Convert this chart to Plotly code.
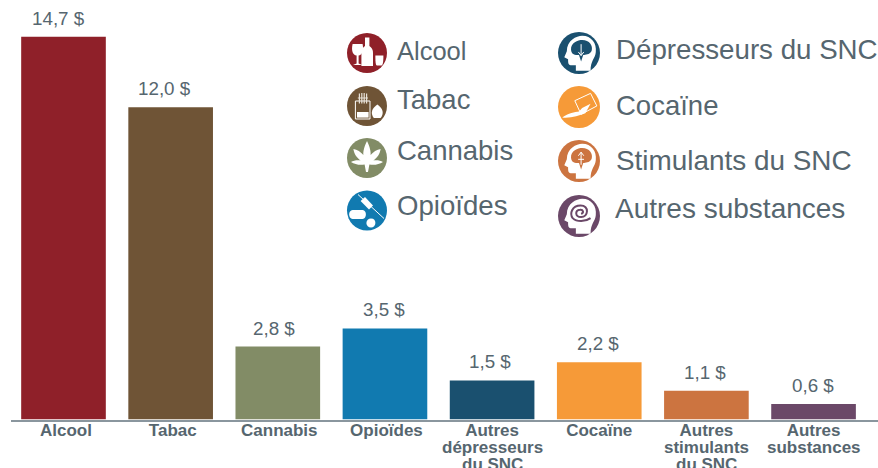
import re
import plotly.graph_objects as go

W, H = 878, 468
FONT = "Liberation Sans"
GREY = "#56666F"

categories = ["Alcool", "Tabac", "Cannabis", "Opioïdes", "Autres", "Cocaïne", "Autres", "Autres"]
category_ids = list(range(8))
extra_lines = {4: ["dépresseurs", "du SNC"], 6: ["stimulants", "du SNC"], 7: ["substances"]}
values = [14.7, 12.0, 2.8, 3.5, 1.5, 2.2, 1.1, 0.6]
value_labels = ["14,7 $", "12,0 $", "2,8 $", "3,5 $", "1,5 $", "2,2 $", "1,1 $", "0,6 $"]
colors = ["#8F2029", "#6F5436", "#828C66", "#117AB0", "#1A506F", "#F69A38", "#CC7440", "#6B4868"]

HEAD = ("M -0.58 -0.08 C -0.58 -0.6 -0.12 -0.82 0.15 -0.82 C 0.6 -0.82 0.85 -0.45 0.8 -0.05 "
        "C 0.78 0.25 0.55 0.35 0.55 0.84 L -0.15 0.84 L -0.15 0.58 L -0.4 0.58 "
        "C -0.52 0.58 -0.52 0.42 -0.52 0.3 L -0.7 0.2 Z")
BRAIN = ("M -0.38 -0.15 C -0.4 -0.5 -0.05 -0.62 0.15 -0.62 C 0.5 -0.62 0.68 -0.35 0.6 -0.1 "
         "C 0.5 0.1 0.3 0.05 0.2 0.1 L 0.1 0.4 L 0 0.1 C -0.2 0.1 -0.35 0.1 -0.38 -0.15 Z")
ARROW = "M 0.1 -0.42 L 0.1 0.12 M -0.03 -0.05 L 0.1 0.12 L 0.23 -0.05"
CROSS = "M 0.1 0.18 L 0.1 -0.42 M -0.03 -0.25 L 0.1 -0.42 L 0.23 -0.25 M -0.04 -0.08 L 0.24 -0.08"

ICONS = {
    0: [("f", "M -0.72 -0.45 L -0.22 -0.45 C -0.15 -0.1 -0.25 0.1 -0.42 0.13 L -0.42 0.52 L -0.24 0.6 L -0.7 0.6 "
              "L -0.52 0.52 L -0.52 0.13 C -0.7 0.1 -0.8 -0.1 -0.72 -0.45 Z"),
        ("f", "M -0.1 -0.78 L 0.12 -0.78 L 0.12 -0.35 C 0.3 -0.2 0.3 -0.1 0.3 0 L 0.3 0.65 L -0.28 0.65 L -0.28 0 "
              "C -0.28 -0.1 -0.28 -0.2 -0.1 -0.35 Z"),
        ("f", "M 0.42 0.12 L 0.82 0.12 C 0.82 0.4 0.8 0.6 0.72 0.63 L 0.5 0.63 C 0.42 0.6 0.42 0.4 0.42 0.12 Z")],
    1: [("l", "M -0.58 -0.25 L 0.15 -0.25 L 0.15 0.65 L -0.58 0.65 Z"),
        ("f", "M -0.5 0.3 L 0.08 0.3 L 0.08 0.58 L -0.5 0.58 Z"),
        ("h", "M -0.38 -0.62 L -0.38 -0.12 M -0.26 -0.65 L -0.26 -0.12 M -0.14 -0.65 L -0.14 -0.12 "
              "M -0.02 -0.62 L -0.02 -0.12 M -0.46 -0.4 L 0.05 -0.4"),
        ("f", "M 0.52 -0.08 C 0.78 0.1 0.88 0.35 0.68 0.6 L 0.34 0.6 C 0.15 0.35 0.25 0.1 0.52 -0.08 Z")],
    2: [("f", "M 0 -0.85 C 0.15 -0.55 0.2 -0.3 0.18 -0.15 C 0.3 -0.3 0.5 -0.42 0.68 -0.45 "
              "C 0.65 -0.2 0.5 0 0.32 0.12 C 0.5 0.1 0.68 0.12 0.8 0.2 C 0.6 0.32 0.35 0.38 0.12 0.32 "
              "L 0.05 0.7 L -0.05 0.7 L -0.12 0.32 C -0.35 0.38 -0.6 0.32 -0.8 0.2 C -0.68 0.12 -0.5 0.1 -0.32 0.12 "
              "C -0.5 0 -0.65 -0.2 -0.68 -0.45 C -0.5 -0.42 -0.3 -0.3 -0.18 -0.15 C -0.2 -0.3 -0.15 -0.55 0 -0.85 Z")],
    3: [("l", "M -0.45 -0.8 L 0.85 0.4"),
        ("f", "M -0.32 -0.48 L -0.1 -0.68 L 0.3 -0.25 L 0.1 -0.05 Z"),
        ("f", "M -0.72 -0.02 L -0.22 -0.02 C 0 -0.02 0 0.42 -0.22 0.42 L -0.72 0.42 "
              "C -0.95 0.42 -0.95 -0.02 -0.72 -0.02 Z"),
        ("f", "M 0.2 0.4 C 0.35 0.4 0.42 0.5 0.42 0.62 C 0.42 0.75 0.32 0.85 0.2 0.85 "
              "C 0.07 0.85 -0.03 0.75 -0.03 0.62 C -0.03 0.5 0.07 0.4 0.2 0.4 Z")],
    4: [("f", HEAD), ("c", BRAIN), ("w", ARROW)],
    5: [("f", "M -0.8 0.5 C -0.5 0.3 -0.2 0.25 0 0.22 L 0.15 0.05 L 0.55 -0.15 L 0.3 0.3 C 0 0.4 -0.4 0.55 -0.8 0.5 Z"),
        ("l", "M -0.2 -0.3 L 0.55 -0.65 L 0.85 -0.05 L 0.1 0.35 Z")],
    6: [("f", HEAD), ("c", BRAIN), ("w", CROSS)],
    7: [("f", HEAD),
        ("s", "M 0.1 -0.1 C 0.25 -0.15 0.2 -0.32 0.05 -0.3 C -0.2 -0.28 -0.2 0.05 0.1 0.05 "
              "C 0.45 0.05 0.5 -0.5 0.08 -0.5 C -0.35 -0.5 -0.45 -0.1 -0.3 0.1 "
              "C -0.1 0.3 0.3 0.28 0.55 0.1")],
}

legend_labels = ["Alcool", "Tabac", "Cannabis", "Opioïdes",
                 "Dépresseurs du SNC", "Cocaïne", "Stimulants du SNC", "Autres substances"]
legend_sizes = [25.5, 27.5, 27.5, 27.6, 27.7, 27.5, 27.9, 28]
icon_x = [367, 367, 367, 367, 579, 579, 579, 579]
icon_y = [53, 106, 158, 210.5, 53, 107, 161, 216]
icon_r = [20, 20, 20, 20, 21, 21, 21, 21]
text_x = [396, 396, 396, 396, 615, 615, 615, 614]
text_y = [51, 99, 151, 205, 50, 106, 160, 208]
value_label_offset = [-5.5, -6, -4, -0.5, -2, -1.5, -1, -1]
tick_offset = [0.023, 0.02, 0.014, 0.014, 0, 0, 0, 0]


def px(x):
    return x / W


def py(y):
    return 1 - y / H


def place(path, cx, cy, r):
    def rep(m):
        return f"{px(cx + float(m.group(1)) * r):.5f} {py(cy + float(m.group(2)) * r):.5f}"
    return re.sub(r"(-?\d+\.?\d*) (-?\d+\.?\d*)", rep, path)


BASE = 419.5
UNIT = 26.03
fig = go.Figure(go.Bar(x=category_ids, y=values, marker=dict(color=colors, line_width=0),
                       width=0.79, hoverinfo="skip"))

shapes, annotations = [], []
for i, c in enumerate(colors):
    cx, cy, r = icon_x[i], icon_y[i], icon_r[i]
    shapes.append(dict(type="circle", xref="paper", yref="paper", x0=px(cx - r), x1=px(cx + r),
                       y0=py(cy - r), y1=py(cy + r), fillcolor=c, line_width=0))
    for kind, p in ICONS[i]:
        d = place(p, cx, cy, r)
        s = dict(type="path", xref="paper", yref="paper", path=d)
        if kind == "f":
            s.update(fillcolor="white", line_width=0)
        elif kind == "c":
            s.update(fillcolor=c, line_width=0)
        elif kind == "s":
            s.update(line=dict(color=c, width=2))
        elif kind == "h":
            s.update(line=dict(color="#E8E2D8", width=1.2))
        else:
            s.update(line=dict(color="white", width=1))
        shapes.append(s)
    annotations.append(dict(xref="paper", yref="paper", x=px(text_x[i]), y=py(text_y[i]), text=legend_labels[i],
                            showarrow=False, xanchor="left", yanchor="middle", xshift=-1,
                            font=dict(family=FONT, size=legend_sizes[i], color=GREY)))

for i, v in enumerate(values):
    annotations.append(dict(x=i, y=v, xref="x", yref="y", text=value_labels[i], showarrow=False,
                            yanchor="middle", yshift=18.5, xshift=value_label_offset[i],
                            font=dict(family=FONT, size=18.8, color=GREY)))

for i, lines in extra_lines.items():
    for k, t in enumerate(lines):
        annotations.append(dict(x=i, xref="x", yref="paper", y=py(447 + 17 * k), text=t, showarrow=False,
                                yanchor="middle", captureevents=False,
                                font=dict(family=FONT, size=17, color=GREY, weight=700)))

c0, step = 63.5, 107.15
fig.update_layout(
    width=W, height=H, margin=dict(l=0, r=0, t=0, b=0), autosize=False,
    paper_bgcolor="white", plot_bgcolor="white", showlegend=False,
    shapes=shapes, annotations=annotations,
    xaxis=dict(domain=[11 / W, 1], range=[(11 - c0) / step, (W - c0) / step],
               tickmode="array", tickvals=[a + b for a, b in zip(category_ids, tick_offset)], ticktext=categories,
               ticks="", showgrid=False, zeroline=False, showline=True, linecolor="#8A969E", linewidth=1.5,
               ticklabelstandoff=-6,
               tickfont=dict(family=FONT, size=17, color=GREY, weight=700), tickangle=0),
    yaxis=dict(domain=[(H - BASE) / H, 1], range=[0, BASE / UNIT], visible=False),
)
fig.write_html("out.html", config={"displayModeBar": False},
               post_script="document.body.style.margin='0';document.documentElement.style.overflow='hidden';")
